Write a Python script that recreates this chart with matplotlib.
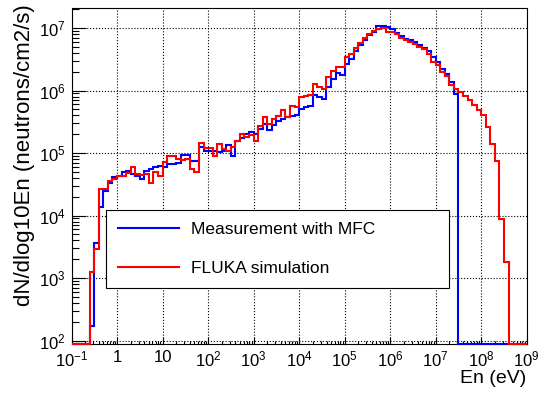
import numpy as np
import matplotlib
matplotlib.use('Agg')
import matplotlib.pyplot as plt
from matplotlib.ticker import FixedLocator, FixedFormatter, LogLocator, NullFormatter

plt.rcParams['font.family'] = ['Liberation Sans', 'DejaVu Sans']
plt.rcParams['mathtext.default'] = 'regular'

# 10 log bins per decade, 0.1 eV .. 1 GeV
bin_edges = 10 ** np.linspace(-1, 9, 101)

# log10 of dN/dlog10En per bin, None = empty bin
mfc_log10 = [None, None, None, None, 2.23, 3.56, 4.14, 4.39, 4.52, 4.62,
             4.63, 4.70, 4.72, 4.67, 4.64, 4.59, 4.72, 4.75, 4.77, 4.79,
             4.78, 4.82, 4.83, 4.84, 4.97, 4.97, 4.88, 4.88, 5.10, 5.03,
             5.03, 5.03, 5.02, 5.04, 5.13, 4.95, 5.20, 5.24, 5.31, 5.33,
             5.31, 5.39, 5.46, 5.37, 5.45, 5.51, 5.54, 5.57, 5.59, 5.61,
             5.70, 5.73, 5.75, 5.93, 5.89, 5.86, 6.06, 6.18, 6.28, 6.25,
             6.43, 6.51, 6.63, 6.73, 6.81, 6.89, 6.94, 7.03, 7.03, 7.02,
             6.98, 6.92, 6.87, 6.82, 6.81, 6.77, 6.73, 6.68, 6.63, 6.53,
             6.45, 6.35, 6.26, 6.13, 5.94, None, None, None, None, None,
             None, None, None, None, None, None, None, None, None, None]

fluka_log10 = [None, None, None, None, 3.10, 3.47, 4.42, 4.43, 4.56, 4.59,
               4.63, 4.64, 4.68, 4.78, 4.67, 4.65, 4.66, 4.52, 4.69, 4.64,
               4.85, 4.96, 4.96, 4.90, 4.89, 4.90, 4.75, 4.70, 5.16, 5.08,
               5.08, 4.95, 5.15, 5.06, 5.04, 5.09, 5.20, 5.31, 5.26, 5.29,
               5.20, 5.43, 5.58, 5.46, 5.54, 5.60, 5.69, 5.57, 5.75, 5.74,
               5.90, 5.91, 5.93, 6.11, 6.05, 6.03, 6.22, 6.32, 6.38, 6.37,
               6.54, 6.59, 6.68, 6.76, 6.84, 6.90, 6.95, 6.99, 7.00, 6.94,
               6.93, 6.91, 6.84, 6.81, 6.77, 6.74, 6.70, 6.66, 6.59, 6.46,
               6.41, 6.30, 6.23, 6.09, 6.02, 5.98, 5.92, 5.85, 5.77, 5.69,
               5.61, 5.42, 5.15, 4.87, 3.95, 3.25, None, None, None, None]

x_ticks = [1e-1, 1, 10, 1e2, 1e3, 1e4, 1e5, 1e6, 1e7, 1e8, 1e9]
x_tick_labels = ['$10^{-1}$', '1', '10', '$10^{2}$', '$10^{3}$', '$10^{4}$',
                 '$10^{5}$', '$10^{6}$', '$10^{7}$', '$10^{8}$', '$10^{9}$']
y_ticks = [1e2, 1e3, 1e4, 1e5, 1e6, 1e7]
y_tick_labels = ['$10^{2}$', '$10^{3}$', '$10^{4}$', '$10^{5}$', '$10^{6}$', '$10^{7}$']

ymin, ymax = 88, 2.09e7


def to_values(logs):
    # empty bins sit on the lower frame like in ROOT
    return np.array([ymin if v is None else 10 ** v for v in logs])


fig = plt.figure(figsize=(5.39, 3.94), dpi=100)
ax = fig.add_axes([0.1327, 0.1269, 0.8445, 0.8528])

ax.stairs(to_values(mfc_log10), bin_edges, baseline=None, color='#0000ff',
          lw=1.5, label='Measurement with MFC', clip_on=False, zorder=3)
ax.stairs(to_values(fluka_log10), bin_edges, baseline=None, color='#ff0000',
          lw=1.5, label='FLUKA simulation', clip_on=False, zorder=4)

ax.set_xscale('log')
ax.set_yscale('log')
ax.set_xlim(1e-1, 1e9)
ax.set_ylim(ymin, ymax)

ax.xaxis.set_major_locator(FixedLocator(x_ticks))
ax.xaxis.set_major_formatter(FixedFormatter(x_tick_labels))
ax.yaxis.set_major_locator(FixedLocator(y_ticks))
ax.yaxis.set_major_formatter(FixedFormatter(y_tick_labels))
ax.xaxis.set_minor_locator(LogLocator(base=10, subs=np.arange(2, 10), numticks=20))
ax.yaxis.set_minor_locator(LogLocator(base=10, subs=np.arange(2, 10), numticks=20))
ax.xaxis.set_minor_formatter(NullFormatter())
ax.yaxis.set_minor_formatter(NullFormatter())

ax.tick_params(axis='both', which='both', direction='in', labelsize=12,
               width=0.8, color='black')
ax.tick_params(axis='x', which='major', length=5, pad=4)
ax.tick_params(axis='x', which='minor', length=2.5)
ax.tick_params(axis='y', which='major', length=10, pad=4)
ax.tick_params(axis='y', which='minor', length=5)

ax.grid(True, which='major', color='black', ls=':', lw=0.8)
for s in ax.spines.values():
    s.set_linewidth(0.8)

ax.set_xlabel('En (eV)', fontsize=14, loc='right')
ax.xaxis.set_label_coords(1.0, -0.078)
ax.set_ylabel('dN/dlog10En (neutrons/cm2/s)', fontsize=16, loc='top')
ax.yaxis.set_label_coords(-0.08, 1.01)

leg = ax.legend(loc='upper left', bbox_to_anchor=(0.0758, 0.166, 0.754, 0.233),
                mode='expand', borderaxespad=0, fontsize=12.5, fancybox=False,
                framealpha=1, edgecolor='black', handlelength=3.5,
                handletextpad=0.7, labelspacing=1.35, borderpad=0.7)
leg.get_frame().set_linewidth(0.8)

fig.savefig('out.png', dpi=100)
